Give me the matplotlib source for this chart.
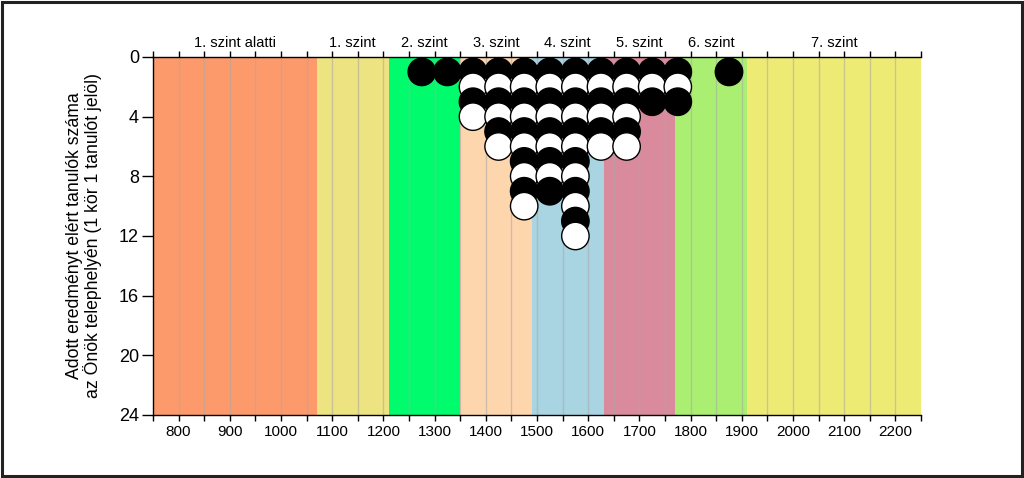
import numpy as np
import matplotlib
matplotlib.use("Agg")
import matplotlib.pyplot as plt
from matplotlib.patches import Rectangle

plt.rcParams['font.family'] = ['Liberation Sans', 'DejaVu Sans']

# score bands (level limits) and their names
band_edges = [750, 1070, 1210, 1350, 1490, 1630, 1770, 1910, 2250]
band_names = ["1. szint alatti", "1. szint", "2. szint", "3. szint",
              "4. szint", "5. szint", "6. szint", "7. szint"]
band_colors = ["#fd9a6c", "#ede381", "#00fb6c", "#fed6ad",
               "#a9d4e2", "#d98a9c", "#abef72", "#eeeb75"]

# students per score column (1 circle = 1 student)
col_scores = [1275, 1325, 1375, 1425, 1475, 1525, 1575, 1625, 1675, 1725, 1775, 1875]
col_counts = [1, 1, 4, 6, 10, 9, 12, 6, 6, 3, 3, 1]

x_labels = [800, 900, 1000, 1100, 1200, 1300, 1400, 1500, 1600, 1700,
            1800, 1900, 2000, 2100, 2200]
y_ticks = [0, 4, 8, 12, 16, 20, 24]

fig = plt.figure(figsize=(10.24, 4.78), dpi=100)
ax = fig.add_axes([0.1494, 0.1318, 0.7500, 0.7490])

# coloured bands
for i in range(len(band_names)):
    ax.axvspan(band_edges[i], band_edges[i + 1], color=band_colors[i], lw=0, zorder=0)

# vertical grid every 50 points
for g in np.arange(800, 2250, 50):
    ax.axvline(g, color="#a8a8a8", lw=1.0, alpha=0.55, zorder=1)

# circles, stacked downwards
xs, ys, cs = [], [], []
for sc, n in zip(col_scores, col_counts):
    for k in range(1, n + 1):
        xs.append(sc)
        ys.append(k)
        cs.append("black" if k % 2 == 1 else "white")
order = np.argsort(ys, kind="stable")
ax.scatter(np.array(xs)[order], np.array(ys)[order], s=390,
           c=np.array(cs)[order], edgecolors="black", linewidths=1.0,
           zorder=3, clip_on=False)

ax.set_xlim(750, 2250)
ax.set_ylim(24, 0)

ax.set_xticks(np.arange(750, 2251, 50), minor=True)
ax.set_xticks(x_labels)
ax.set_xticklabels([str(v) for v in x_labels], fontsize=11)
ax.tick_params(axis="x", which="both", direction="out", length=4, width=1,
               top=True, bottom=True, pad=3)
ax.set_yticks(y_ticks)
ax.set_yticklabels([str(v) for v in y_ticks], fontsize=13)
ax.tick_params(axis="y", direction="out", length=8, width=1, pad=2)

ax.spines["right"].set_visible(False)
for s in ["left", "bottom", "top"]:
    ax.spines[s].set_linewidth(1.0)

# band names above the plot
for i, name in enumerate(band_names):
    mid = (band_edges[i] + band_edges[i + 1]) / 2
    ax.annotate(name, xy=(mid, 1.0), xycoords=("data", "axes fraction"),
                xytext=(0, 5), textcoords="offset points",
                ha="center", va="bottom", fontsize=10.5)

ax.set_ylabel("Adott eredményt elért tanulók száma\naz Önök telephelyén (1 kör 1 tanulót jelöl)",
              fontsize=12.7, linespacing=1.05, labelpad=12)

# outer frame
fig.patches.append(Rectangle((0.002, 0.004), 0.996, 0.992, transform=fig.transFigure,
                             fill=False, edgecolor="#222222", lw=2.2))

fig.savefig("out.png", dpi=100)
